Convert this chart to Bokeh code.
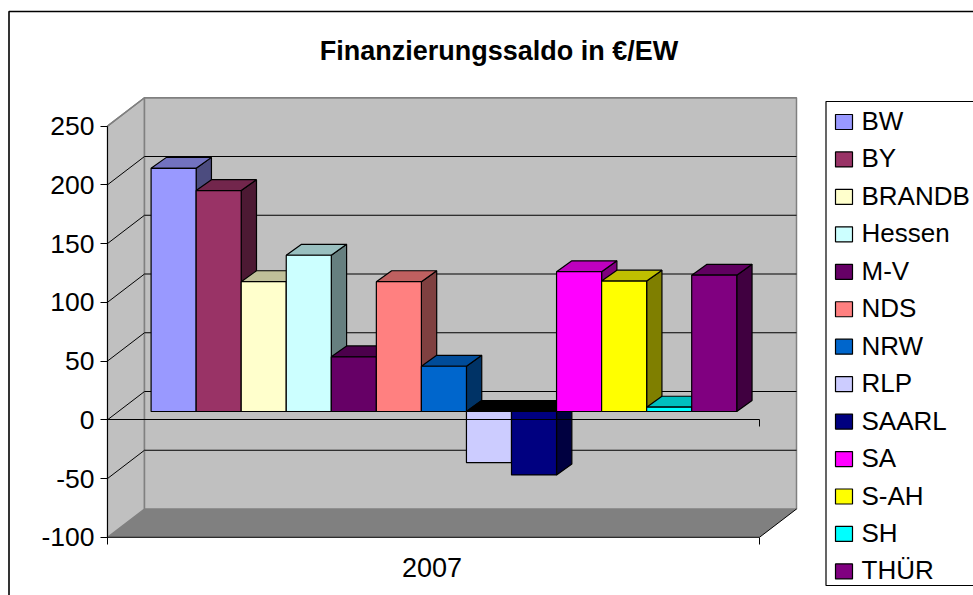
from bokeh.embed import file_html
from bokeh.resources import INLINE
from bokeh.plotting import figure
from bokeh.models import Range1d, LinearAxis, FixedTicker
from bokeh.core.properties import value

# ---- data ----
TITLE = "Finanzierungssaldo in €/EW"
CATEGORY = "2007"
SERIES = ["BW", "BY", "BRANDB", "Hessen", "M-V", "NDS", "NRW", "RLP", "SAARL", "SA", "S-AH", "SH", "THÜR"]
VALUES = [207, 188, 110.5, 133, 46.5, 110.5, 38.5, -43.5, -54, 119, 111, 3.7, 116]
COLORS = ["#9999FF", "#993366", "#FFFFCC", "#CCFFFF", "#660066", "#FF8080", "#0066CC",
          "#CCCCFF", "#000080", "#FF00FF", "#FFFF00", "#00FFFF", "#800080"]
Y_TICKS = [-100, -50, 0, 50, 100, 150, 200, 250]

# ---- layout constants (page pixels) ----
W, H = 973, 595
FONT = "Liberation Sans"
K = 1.175          # pixels per unit
Y0 = 419.3         # page y of value 0 on the front plane
AX_L, AX_R = 107, 759
WALL_DX, WALL_DY = 37, 28.3 / K
BAR_X0, BAR_W = 150.6, 45.05
BAR_DX, BAR_DY = 15.3, 10.9 / K
BAR_LIFT = 8.3 / K
YMIN, YMAX = Y_TICKS[0], Y_TICKS[-1]


def shade(hex_color, f):
    r, g, b = (int(hex_color[i:i + 2], 16) for i in (1, 3, 5))
    return "#%02x%02x%02x" % (int(r * f), int(g * f), int(b * f))


p = figure(width=W, height=H, output_backend="svg", toolbar_location=None,
           x_axis_type=None, y_axis_type=None, min_border=0,
           x_range=Range1d(0, W),
           y_range=Range1d(-(H - Y0) / K, Y0 / K),
           background_fill_color="white", border_fill_color="white",
           outline_line_color=None)
p.grid.visible = False
p.extra_y_ranges = {"page": Range1d(H, 0)}

# chart frame
p.line([8.5, 8.5, W + 5], [H + 5, 11, 11], y_range_name="page", line_color="#000000", line_width=1.6)

# walls and floor
bl, br = AX_L + WALL_DX, AX_R + WALL_DX
p.patch([AX_L, bl, bl, AX_L], [YMAX, YMAX + WALL_DY, YMIN + WALL_DY, YMIN],
        fill_color="#C0C0C0", line_color="#808080", line_width=1.5)
p.patch([bl, br, br, bl], [YMIN + WALL_DY, YMIN + WALL_DY, YMAX + WALL_DY, YMAX + WALL_DY],
        fill_color="#C0C0C0", line_color="#808080", line_width=1.5)
p.patch([AX_L, bl, br, AX_R], [YMIN, YMIN + WALL_DY, YMIN + WALL_DY, YMIN],
        fill_color="#808080", line_color=None)
p.line([AX_L, AX_R, br], [YMIN, YMIN, YMIN + WALL_DY], line_color="#000000", line_width=1)

# grid lines over walls
grid = Y_TICKS[1:-1]
p.multi_line([[AX_L, bl, br] for _ in grid],
             [[t, t + WALL_DY, t + WALL_DY] for t in grid], line_color="#000000", line_width=1)
p.line([AX_L, bl, br], [YMAX, YMAX + WALL_DY, YMAX + WALL_DY], line_color="#808080", line_width=1.5)

# bars: per bar side, top, then front, painted left to right
xs, ys, fills = [], [], []
for i, (v, c) in enumerate(zip(VALUES, COLORS)):
    x0 = BAR_X0 + i * BAR_W
    x1 = x0 + BAR_W
    hi = max(v, 0) + BAR_LIFT
    lo = min(v, 0) + BAR_LIFT
    xs.append([x1, x1 + BAR_DX, x1 + BAR_DX, x1])
    ys.append([hi, hi + BAR_DY, lo + BAR_DY, lo])
    fills.append(shade(c, 0.5))
    xs.append([x0, x0 + BAR_DX, x1 + BAR_DX, x1])
    ys.append([hi, hi + BAR_DY, hi + BAR_DY, hi])
    fills.append("#000000" if v < 0 else shade(c, 0.75))
    xs.append([x0, x1, x1, x0])
    ys.append([lo, lo, hi, hi])
    fills.append(c)
p.patches(xs, ys, fill_color=fills, line_color="#000000", line_width=1.2)

# axes
yax = LinearAxis(fixed_location=AX_L, ticker=FixedTicker(ticks=Y_TICKS), bounds=(YMIN, YMAX),
                 major_tick_in=0, major_tick_out=7, minor_tick_in=0, minor_tick_out=0,
                 major_label_standoff=6, major_label_text_font=FONT,
                 major_label_overrides={t: str(t) for t in Y_TICKS},
                 major_label_text_font_size="26.5px", major_label_text_color="#000000",
                 axis_line_color="#000000", major_tick_line_color="#000000")
p.add_layout(yax, "left")

zero = LinearAxis(fixed_location=0, ticker=FixedTicker(ticks=[AX_R]), bounds=(AX_L, AX_R),
                  major_tick_in=0, major_tick_out=7, minor_tick_in=0, minor_tick_out=0,
                  major_label_overrides={AX_R: " "}, major_label_text_font_size="1px",
                  axis_line_color="#000000", major_tick_line_color="#000000")
p.add_layout(zero, "below")

center = (AX_L + AX_R) / 2 - 1.5
xax = LinearAxis(fixed_location=YMIN, ticker=FixedTicker(ticks=[center], minor_ticks=[AX_L, AX_R]),
                 bounds=(AX_L, AX_R), major_tick_in=0, major_tick_out=0,
                 minor_tick_in=0, minor_tick_out=7,
                 major_label_overrides={center: CATEGORY}, major_label_standoff=14,
                 major_label_text_font=FONT, major_label_text_font_size="27px",
                 major_label_text_color="#000000",
                 axis_line_color=None, minor_tick_line_color="#000000")
p.add_layout(xax, "below")

# title
p.text([498.5], [50], text=[TITLE], y_range_name="page", text_align="center", text_baseline="middle",
       text_font=value(FONT), text_font_style="bold", text_font_size="27px", text_color="#000000")

# legend box (open towards the right page edge)
LEG_L, LEG_T, LEG_B = 825.5, 101, 585
p.line([W + 5, LEG_L, LEG_L, W + 5], [LEG_T, LEG_T, LEG_B, LEG_B], y_range_name="page",
       line_color="#000000", line_width=1.2)
LEG_Y0, LEG_STEP = 121.5, 37.45
ly = [LEG_Y0 + i * LEG_STEP for i in range(len(SERIES))]
p.quad(left=[835] * len(ly), right=[852] * len(ly),
       top=[y - 7.5 for y in ly], bottom=[y + 7.5 for y in ly], y_range_name="page",
       fill_color=COLORS, line_color="#000000", line_width=1.2)
p.text([861] * len(ly), [y - 1 for y in ly], text=SERIES, y_range_name="page",
       text_align="left", text_baseline="middle", text_font=value(FONT),
       text_font_size="26px", text_color="#000000")

open("out.html", "w").write(file_html(p, INLINE))
